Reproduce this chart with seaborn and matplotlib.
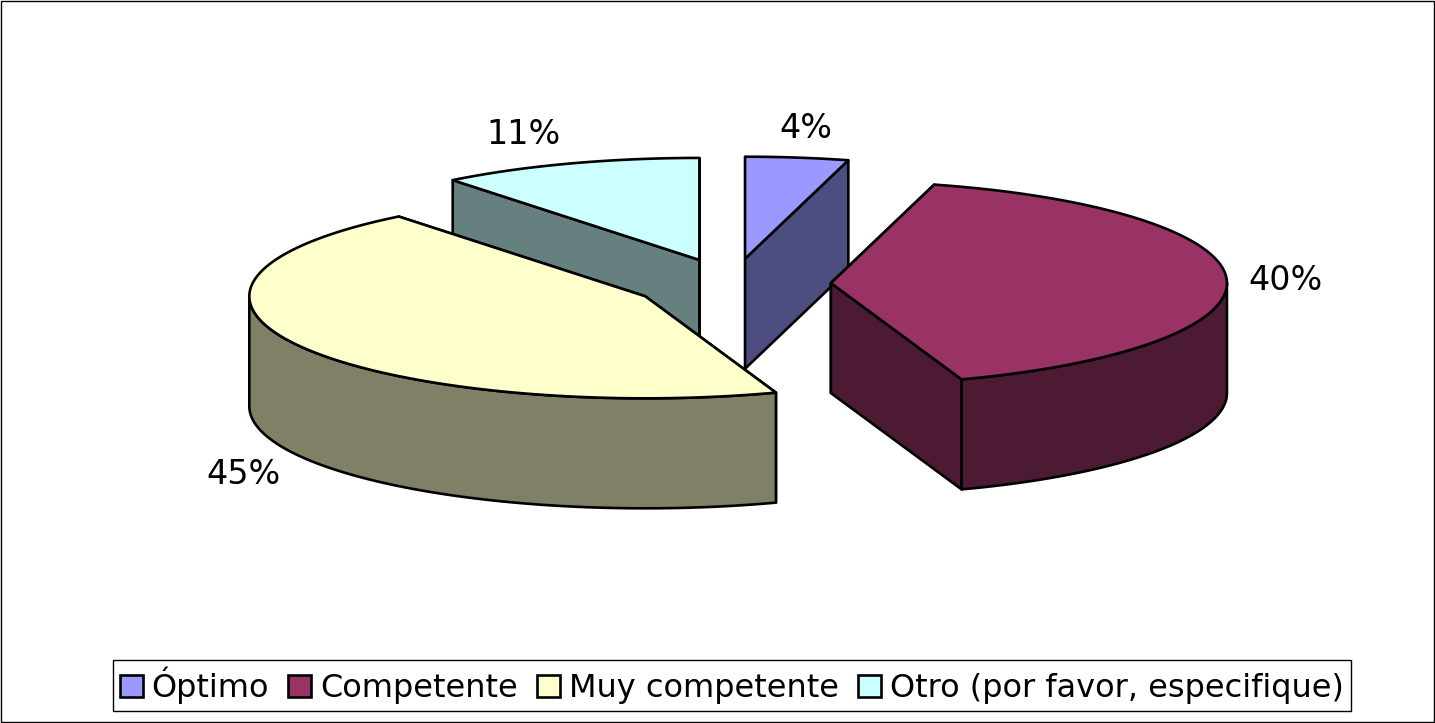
"""
Exploded 3D style pie: competence levels, drawn on a pixel sized axes.
"""

import numpy as np
import pandas as pd
import matplotlib
matplotlib.use("Agg")
import matplotlib.pyplot as plt
from matplotlib.patches import Patch, Polygon, Rectangle
import seaborn as sns

categories = ["Óptimo", "Competente", "Muy competente", "Otro (por favor, especifique)"]
shares = [4.2, 40.45, 44.65, 10.7]
top_colors = ["#9999FF", "#993366", "#FFFFCC", "#CCFFFF"]
side_colors = ["#4D4D80", "#4D1A33", "#808066", "#668080"]

# pie geometry in figure pixels
CX, CY = 732, 284
RX, RY = 396, 102
DEPTH = 110
EXPLODE = 0.25
LW = 1.9
LABEL_XY = [(806, 129), (1285, 280), (243, 475), (523, 134)]
DRAW_ORDER = [3, 2, 0, 1]

sns.set_theme(style="white")
plt.rcParams["font.family"] = ["DejaVu Sans"]

df = pd.DataFrame({"name": categories, "share": shares, "top": top_colors, "side": side_colors})
df["end"] = df["share"].cumsum() / df["share"].sum() * 2 * np.pi
df["start"] = df["end"].shift(1, fill_value=0.0)
df["mid"] = (df["start"] + df["end"]) / 2


def rim(cx, cy, t):
    return cx + RX * np.sin(t), cy - RY * np.cos(t)


def face(ax, pts, color):
    ax.add_patch(Polygon(pts, closed=True, facecolor=color, edgecolor="black",
                         linewidth=LW, joinstyle="round"))


fig, ax = plt.subplots(figsize=(14.35, 7.23), dpi=100)
ax.set_position([0, 0, 1, 1])
ax.set_xlim(0, 1435)
ax.set_ylim(723, 0)
ax.axis("off")

# outer chart frame
ax.add_patch(Rectangle((0.5, 0.5), 1433.5, 721.5, fill=False, edgecolor="black", linewidth=1))

for i in DRAW_ORDER:
    row = df.iloc[i]
    cx, cy = rim(CX, CY, row["mid"])
    cx = CX + EXPLODE * (cx - CX)
    cy = CY + EXPLODE * (cy - CY)

    # radial walls
    for t in (row["start"], row["end"]):
        x, y = rim(cx, cy, t)
        face(ax, [(cx, cy), (x, y), (x, y + DEPTH), (cx, cy + DEPTH)], row["side"])

    # outer wall, only the front half of the ellipse shows
    a = max(row["start"], np.pi / 2)
    b = min(row["end"], 3 * np.pi / 2)
    if a < b:
        ts = np.linspace(a, b, 120)
        xs, ys = rim(cx, cy, ts)
        pts = list(zip(xs, ys)) + list(zip(xs[::-1], ys[::-1] + DEPTH))
        face(ax, pts, row["side"])

    # top
    ts = np.linspace(row["start"], row["end"], 200)
    xs, ys = rim(cx, cy, ts)
    face(ax, [(cx, cy)] + list(zip(xs, ys)), row["top"])

for share, (x, y) in zip(shares, LABEL_XY):
    ax.text(x, y, f"{share:.0f}%", ha="center", va="center", fontsize=24, color="black")

handles = [Patch(facecolor=c, edgecolor="black", linewidth=LW) for c in top_colors]
leg = ax.legend(handles, categories, loc="center", bbox_to_anchor=(732 / 1435, 1 - 685.5 / 723),
                ncol=4, fontsize=23, frameon=True, fancybox=False, edgecolor="black",
                labelcolor="black", framealpha=1, handlelength=0.72, handleheight=0.72,
                handletextpad=0.28, columnspacing=0.6, borderpad=0.217, borderaxespad=0)
leg.get_frame().set_linewidth(1)

fig.savefig("out.png", dpi=100)
